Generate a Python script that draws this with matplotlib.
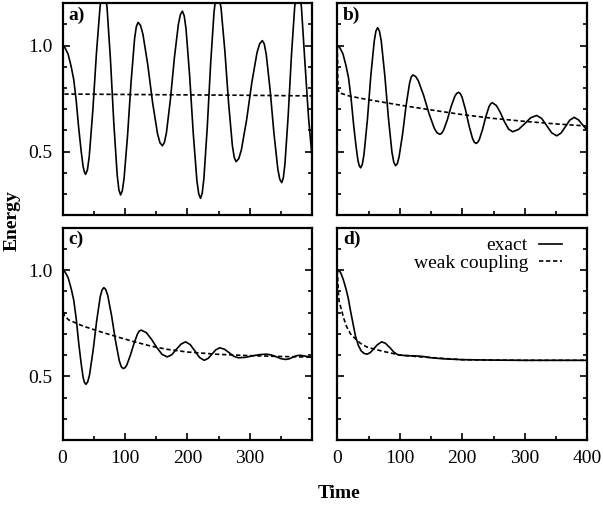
import matplotlib
matplotlib.use("Agg")
import matplotlib.pyplot as plt
from matplotlib.ticker import MultipleLocator, FixedLocator

plt.rcParams['font.family'] = ['Liberation Serif', 'DejaVu Serif']

# ---------------- data ----------------
panel_labels = ["a)", "b)", "c)", "d)"]
legend_labels = ["exact", "weak coupling"]
x_label = "Time"
y_label = "Energy"
x_ticks_left = [0, 100, 200, 300]
x_ticks_right = [0, 100, 200, 300, 400]
y_ticks = [0.5, 1.0]
y_tick_labels = ["0.5", "1.0"]

a_exact_t = [0, 4, 9, 14, 18, 22, 26, 30, 33, 35, 37,
             39.9, 42.8, 48.6, 54.4, 60.2, 63.1, 66,
             68.7, 71.4, 76.8, 82.2, 87.6, 90.3, 93,
             95.8, 98.6, 104.2, 109.8, 115.4, 118.2, 121,
             124.9, 128.8, 136.6, 144.4, 152.2, 156.1, 160,
             163.2, 166.4, 172.8, 179.2, 185.6, 188.8, 192,
             194.9, 197.8, 203.6, 209.4, 215.2, 218.1, 221,
             223.7, 226.4, 231.8, 237.2, 242.6, 245.3, 248,
             251, 254, 260, 266, 272, 275, 278,
             282.2, 286.4, 294.8, 303.2, 311.6, 315.8, 320,
             323.1, 326.2, 332.4, 338.6, 344.8, 347.9, 351,
             353.6, 356.2, 361.4, 366.6, 371.8, 374.4, 377,
             379.5, 382.6, 388, 394, 400]
a_exact_e = [1.0, 0.99, 0.96, 0.90, 0.84, 0.74, 0.61, 0.50, 0.43, 0.405, 0.393,
             0.414, 0.477, 0.696, 0.967, 1.186, 1.249, 1.27,
             1.246, 1.177, 0.934, 0.633, 0.389, 0.320, 0.296,
             0.316, 0.374, 0.577, 0.829, 1.032, 1.090, 1.11,
             1.096, 1.054, 0.909, 0.729, 0.584, 0.542, 0.528,
             0.544, 0.589, 0.747, 0.944, 1.102, 1.147, 1.163,
             1.141, 1.079, 0.858, 0.585, 0.364, 0.302, 0.28,
             0.304, 0.373, 0.615, 0.915, 1.157, 1.226, 1.25,
             1.230, 1.174, 0.975, 0.728, 0.529, 0.473, 0.453,
             0.467, 0.508, 0.650, 0.827, 0.969, 1.010, 1.024,
             1.008, 0.960, 0.793, 0.586, 0.418, 0.370, 0.354,
             0.376, 0.442, 0.671, 0.954, 1.183, 1.248, 1.27,
             1.248, 1.182, 0.93, 0.66, 0.46]
a_weak_t = [0, 1, 2, 100, 200, 300, 400]
a_weak_e = [1.0, 0.80, 0.772, 0.770, 0.768, 0.766, 0.763]

b_exact_t = [0, 4, 9, 14, 18, 22, 26, 30, 33, 35, 37.3,
             40.0, 42.7, 48.2, 53.6, 59.1, 61.8, 64.5,
             67.4, 70.3, 76.0, 81.8, 87.5, 90.4, 93.3,
             96.1, 98.8, 104.4, 109.9, 115.5, 118.2, 121,
             125.3, 129.6, 138.2, 146.8, 155.4, 159.7, 164,
             167, 170, 176, 182, 188, 191, 194,
             196.8, 199.6, 205.2, 210.8, 216.4, 219.2, 222,
             224.6, 227.2, 232.4, 237.6, 242.8, 245.4, 248,
             254.5, 261, 267.5, 274, 280.5,
             290, 299.8, 309.4, 319,
             327, 335, 343, 351,
             358, 365, 372, 379,
             386, 393, 400]
b_exact_e = [1.0, 0.991, 0.962, 0.905, 0.848, 0.753, 0.630, 0.525, 0.459, 0.435, 0.424,
             0.440, 0.487, 0.652, 0.857, 1.022, 1.069, 1.085,
             1.069, 1.023, 0.860, 0.659, 0.496, 0.450, 0.434,
             0.444, 0.475, 0.582, 0.714, 0.821, 0.852, 0.862,
             0.855, 0.835, 0.765, 0.679, 0.609, 0.589, 0.582,
             0.587, 0.601, 0.650, 0.712, 0.761, 0.775, 0.78,
             0.774, 0.757, 0.697, 0.622, 0.562, 0.545, 0.539,
             0.544, 0.557, 0.605, 0.665, 0.713, 0.726, 0.731,
             0.718, 0.684, 0.641, 0.607, 0.594,
             0.605, 0.632, 0.660, 0.671,
             0.657, 0.623, 0.589, 0.575,
             0.588, 0.618, 0.649, 0.662,
             0.650, 0.625, 0.600]
b_weak_t = [0, 1, 3, 20, 50, 100, 150, 200, 250, 300, 350, 400]
b_weak_e = [1.0, 0.80, 0.778, 0.762, 0.745, 0.720, 0.697, 0.675, 0.657, 0.643, 0.631, 0.621]

c_exact_t = [0, 4, 9, 14, 18, 22, 26, 30, 33, 35, 37.4,
             40.3, 43.2, 48.9, 54.7, 60.4, 63.3, 66.2,
             69.3, 72.4, 78.6, 84.8, 91, 94.1, 97.2,
             100.1, 103, 108.7, 114.5, 120.2, 123.1, 126,
             134.3, 142.7, 151, 159.4, 167.7,
             175, 182.4, 189.7, 197,
             204.5, 212, 219.5, 227,
             233.2, 239.5, 245.8, 252,
             259.4, 266.8, 274.1, 281.5,
             293, 304, 316, 327,
             334.5, 342, 349.5, 357,
             363, 368.5, 374, 380,
             390, 400]
c_exact_e = [1.0, 0.991, 0.964, 0.911, 0.858, 0.770, 0.655, 0.557, 0.495, 0.472, 0.462,
             0.473, 0.505, 0.619, 0.760, 0.874, 0.906, 0.917,
             0.908, 0.881, 0.785, 0.668, 0.572, 0.545, 0.536,
             0.540, 0.553, 0.599, 0.654, 0.700, 0.713, 0.717,
             0.705, 0.673, 0.635, 0.603, 0.591,
             0.601, 0.627, 0.651, 0.662,
             0.649, 0.619, 0.588, 0.575,
             0.584, 0.605, 0.625, 0.634,
             0.627, 0.611, 0.594, 0.587,
             0.589, 0.596, 0.602, 0.604,
             0.600, 0.592, 0.583, 0.579,
             0.582, 0.589, 0.596, 0.599,
             0.594, 0.588]
c_weak_t = [0, 1, 3, 10, 33, 60, 87, 113, 140, 167, 200, 250, 300, 350, 400]
c_weak_e = [1.0, 0.81, 0.785, 0.765, 0.736, 0.710, 0.686, 0.664, 0.643, 0.627,
            0.614, 0.603, 0.597, 0.593, 0.590]

d_exact_t = [0, 5, 9.6, 14, 17.6, 21, 25.6, 29, 33.6, 38, 43, 48, 53, 58, 64, 71,
             77, 84, 91, 97.6, 110, 120, 130, 140, 150, 170, 200, 250, 300, 350, 400]
d_exact_e = [1.0, 0.99, 0.955, 0.91, 0.866, 0.81, 0.741, 0.69, 0.646, 0.62, 0.607,
             0.604, 0.612, 0.628, 0.648, 0.662, 0.655, 0.635, 0.612, 0.600, 0.597,
             0.596, 0.595, 0.592, 0.587, 0.582, 0.578, 0.576, 0.575, 0.575, 0.575]
d_weak_t = [0, 1.6, 3, 7, 10, 15, 21, 28.3, 37, 47, 60, 73.6, 100, 130, 154, 200,
            250, 300, 400]
d_weak_e = [1.0, 0.90, 0.85, 0.81, 0.775, 0.733, 0.70, 0.678, 0.655, 0.638, 0.627,
            0.617, 0.600, 0.592, 0.587, 0.578, 0.576, 0.575, 0.575]

panels = [
    (a_exact_t, a_exact_e, a_weak_t, a_weak_e),
    (b_exact_t, b_exact_e, b_weak_t, b_weak_e),
    (c_exact_t, c_exact_e, c_weak_t, c_weak_e),
    (d_exact_t, d_exact_e, d_weak_t, d_weak_e),
]

# ---------------- layout ----------------
W, H = 603, 508
fig = plt.figure(figsize=(W / 100, H / 100), dpi=100)

def rect(l, r, t, b):
    return [l / W, 1 - b / H, (r - l) / W, (b - t) / H]

rects = [
    rect(62.5, 312.3, 3.3, 215.3),
    rect(337.3, 587.3, 3.3, 215.3),
    rect(62.5, 312.3, 227.5, 440.0),
    rect(337.3, 587.3, 227.5, 440.0),
]

lw = 1.2
for i, (r, (et, ee, wt, we)) in enumerate(zip(rects, panels)):
    ax = fig.add_axes(r)
    ax.plot(et, ee, color='black', lw=lw, solid_joinstyle='round',
            label=legend_labels[0])
    ax.plot(wt, we, color='black', lw=lw, linestyle=(0, (2.6, 1.6)),
            label=legend_labels[1])
    ax.set_xlim(0, 400)
    ax.set_ylim(0.2, 1.2)
    left = i in (0, 2)
    bottom = i in (2, 3)
    ax.xaxis.set_major_locator(FixedLocator(x_ticks_left if left else x_ticks_right))
    ax.xaxis.set_minor_locator(MultipleLocator(50))
    ax.yaxis.set_major_locator(FixedLocator(y_ticks))
    ax.yaxis.set_minor_locator(MultipleLocator(0.1))
    ax.tick_params(which='both', direction='in', left=True, right=True,
                   top=False, bottom=True, width=1.2, colors='black',
                   labelsize=14, pad=7)
    ax.tick_params(which='major', length=5)
    ax.tick_params(which='minor', length=2.6)
    if left:
        ax.set_yticklabels(y_tick_labels)
    else:
        ax.tick_params(labelleft=False)
    if not bottom:
        ax.tick_params(labelbottom=False)
    for s in ax.spines.values():
        s.set_linewidth(1.6)
    ax.text(0.022, 0.985, panel_labels[i], transform=ax.transAxes,
            ha='left', va='top', fontsize=14, fontweight='bold')
    if i == 3:
        ax.legend(loc='upper right', bbox_to_anchor=(0.953, 1.02),
                  frameon=False, markerfirst=False, fontsize=14,
                  handlelength=1.2, handletextpad=0.55,
                  labelspacing=0.0, borderaxespad=0.3)

fig.text(12 / W, 1 - 221 / H, y_label, rotation=90, ha='center', va='center',
         fontsize=14, fontweight='bold')
fig.text(339 / W, 1 - 494 / H, x_label, ha='center', va='center',
         fontsize=14, fontweight='bold')

fig.savefig("out.png", dpi=100)
